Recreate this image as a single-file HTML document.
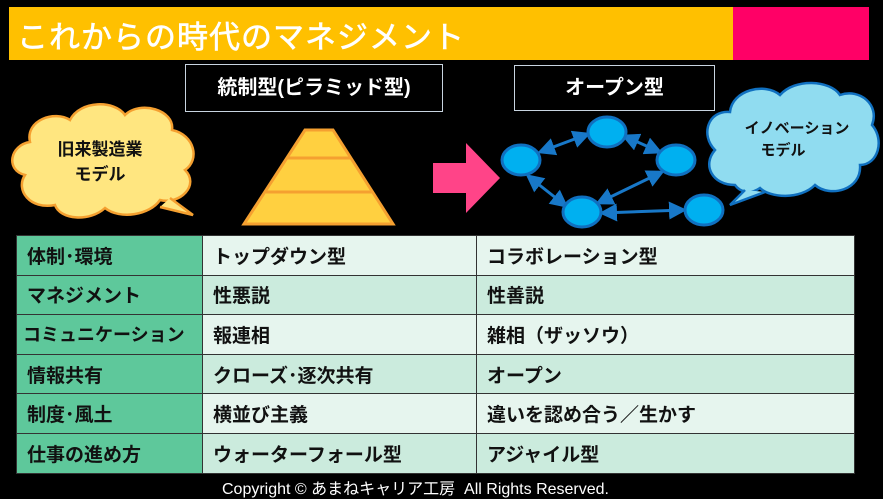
<!DOCTYPE html>
<html><head><meta charset="utf-8"><style>
body{margin:0;width:883px;height:497px;background:#000;overflow:hidden;position:relative;font-family:"Liberation Sans","Noto Sans CJK JP",sans-serif;}
.abs{position:absolute}
table{position:absolute;left:16px;top:235px;width:839px;border-collapse:collapse;}
td{height:38.6px;padding:0 0 0 10px;font-size:19px;font-weight:bold;color:#111;border:1.5px solid #333;white-space:nowrap}
td.h{background:#5ec89b;width:175px}
td.a{width:263px}
tr:nth-child(odd) td:not(.h){background:#e6f5ee}
tr:nth-child(even) td:not(.h){background:#cbebdd}
</style></head><body>
<div class="abs" style="left:9px;top:7px;width:724px;height:53px;background:#ffc000"></div>
<div class="abs" style="left:733px;top:7px;width:136px;height:53px;background:#ff0066"></div>
<div class="abs" style="left:17px;top:12px;font-size:31px;color:#fff;letter-spacing:1px;-webkit-text-stroke:0.6px #fff">これからの時代のマネジメント</div>
<div class="abs" style="left:185px;top:64px;width:256px;height:46px;border:1.5px solid #c8d4e0;color:#fff;font-size:20px;font-weight:bold;text-align:center;line-height:46px">統制型(ピラミッド型)</div>
<div class="abs" style="left:514px;top:65px;width:199px;height:44px;border:1.5px solid #c8d4e0;color:#fff;font-size:20px;font-weight:bold;text-align:center;line-height:44px">オープン型</div>
<svg class="abs" style="left:0;top:0" width="883" height="497">
<defs><marker id="ar" markerWidth="6" markerHeight="6" refX="5" refY="3" orient="auto-start-reverse"><path d="M0,0L6,3L0,6z" fill="#1878c8"/></marker></defs>
<g fill="#ffe680" stroke="#f5a030" stroke-width="2.5">
<path d="M55,205 C30,210 15,190 25,175 C5,170 10,145 30,142 C25,120 55,110 70,120 C80,100 115,100 125,115 C140,100 175,110 172,130 C195,135 200,160 185,170 C200,185 180,205 160,200 C150,215 120,220 105,208 C90,222 60,220 55,205Z"/>
<path d="M170,198 L193,215 L160,207" />
</g>
<text x="100" y="155" font-size="17" font-weight="bold" text-anchor="middle" fill="#111">旧来製造業</text>
<text x="100" y="180" font-size="17" font-weight="bold" text-anchor="middle" fill="#111">モデル</text>
<g fill="#ffd040" stroke="#f5a030" stroke-width="3">
<polygon points="305,130 333,130 393,224 244,224"/>
<line x1="287" y1="158" x2="350" y2="158"/>
<line x1="266" y1="192" x2="372" y2="192"/>
</g>
<polygon points="433,163 466,163 466,143 500,178 466,213 466,193 433,193" fill="#ff4488"/>
<g stroke="#1878c8" stroke-width="3" marker-start="url(#ar)" marker-end="url(#ar)">
<line x1="540" y1="152" x2="588" y2="134"/>
<line x1="624" y1="136" x2="660" y2="152"/>
<line x1="662" y1="172" x2="598" y2="203"/>
<line x1="528" y1="176" x2="566" y2="206"/>
<line x1="602" y1="213" x2="684" y2="210"/>
</g>
<g fill="#00b0f0" stroke="#1070c0" stroke-width="3">
<ellipse cx="521" cy="160" rx="19" ry="15"/>
<ellipse cx="607" cy="132" rx="19" ry="15"/>
<ellipse cx="676" cy="160" rx="19" ry="15"/>
<ellipse cx="582" cy="212" rx="19" ry="15"/>
<ellipse cx="704" cy="210" rx="19" ry="15"/>
</g>
<g fill="#90dcf0" stroke="#1070c0" stroke-width="2.5">
<path d="M735,185 C712,185 702,165 715,150 C700,135 708,110 730,112 C732,90 765,82 780,95 C795,78 830,80 840,95 C860,88 880,105 872,125 C885,140 878,165 860,165 C862,190 830,198 815,185 C800,200 770,198 760,188 C750,195 740,192 735,185Z"/>
<path d="M745,190 L730,205 L765,192"/>
</g>
<text x="797" y="133" font-size="15" font-weight="bold" text-anchor="middle" fill="#111">イノベーション</text>
<text x="783" y="155" font-size="15" font-weight="bold" text-anchor="middle" fill="#111">モデル</text>
</svg>
<table>
<tr><td class="h">体制･環境</td><td class="a">トップダウン型</td><td>コラボレーション型</td></tr>
<tr><td class="h">マネジメント</td><td class="a">性悪説</td><td>性善説</td></tr>
<tr><td class="h" style="font-size:18px;padding-left:6px">コミュニケーション</td><td class="a">報連相</td><td>雑相（ザッソウ）</td></tr>
<tr><td class="h">情報共有</td><td class="a">クローズ･逐次共有</td><td>オープン</td></tr>
<tr><td class="h">制度･風土</td><td class="a">横並び主義</td><td>違いを認め合う／生かす</td></tr>
<tr><td class="h">仕事の進め方</td><td class="a">ウォーターフォール型</td><td>アジャイル型</td></tr>
</table>
<div class="abs" style="left:222px;top:475px;font-size:16px;color:#fff">Copyright © あまねキャリア工房&nbsp; All Rights Reserved.</div>
</body></html>
